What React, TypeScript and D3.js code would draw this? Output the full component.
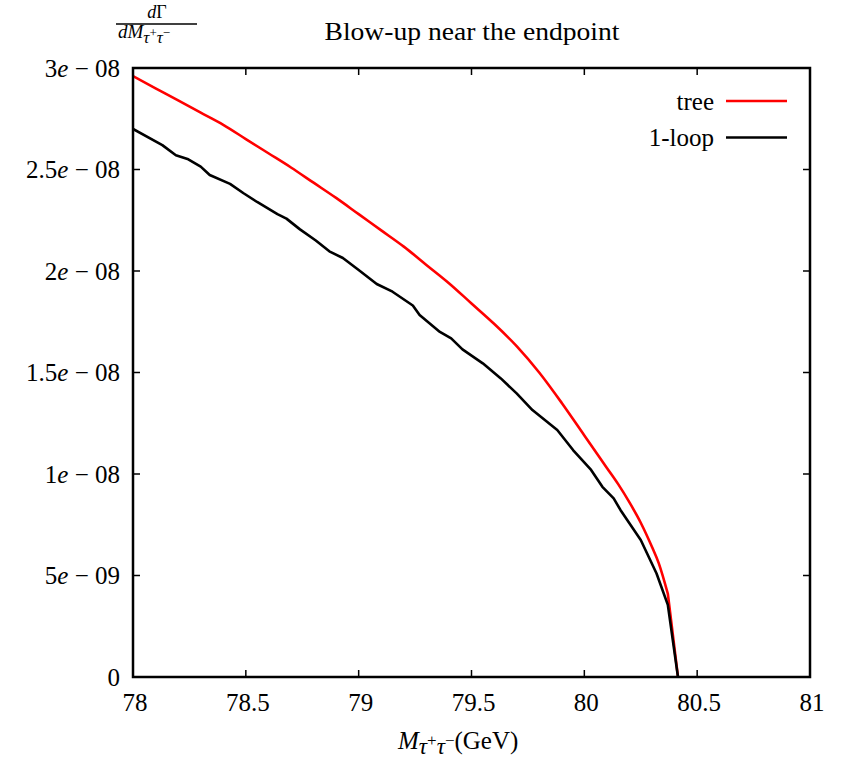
import * as d3 from "d3";
import React from "react";

// tree-level spectrum, x in GeV, y in units of 1e-9
const treeX = [78.0, 78.1, 78.2, 78.3, 78.4, 78.5, 78.6, 78.7, 78.8, 78.9, 79.0, 79.1, 79.2, 79.3, 79.4, 79.5, 79.6, 79.7, 79.8, 79.9, 80.0, 80.1, 80.15, 80.2, 80.25, 80.3, 80.33, 80.37, 80.415];
const treeY = [29.6, 29.0, 28.4, 27.8, 27.2, 26.5, 25.8, 25.1, 24.35, 23.6, 22.8, 22.0, 21.2, 20.3, 19.4, 18.4, 17.4, 16.3, 15.0, 13.5, 11.9, 10.3, 9.5, 8.6, 7.6, 6.4, 5.6, 4.1, 0];

// 1-loop spectrum (noisy)
const loopX = [78.0, 78.13, 78.19, 78.245, 78.3, 78.34, 78.43, 78.49, 78.55, 78.64, 78.68, 78.74, 78.81, 78.87, 78.93, 79.0, 79.08, 79.15, 79.24, 79.27, 79.36, 79.41, 79.46, 79.55, 79.63, 79.7, 79.77, 79.88, 79.95, 80.03, 80.08, 80.13, 80.16, 80.25, 80.32, 80.37, 80.415];
const loopY = [27.0, 26.2, 25.7, 25.5, 25.14, 24.73, 24.29, 23.83, 23.4, 22.8, 22.58, 22.05, 21.5, 20.97, 20.64, 20.05, 19.36, 18.98, 18.3, 17.83, 17.0, 16.68, 16.14, 15.45, 14.71, 13.97, 13.15, 12.17, 11.18, 10.2, 9.37, 8.8, 8.23, 6.75, 5.1, 3.55, 0];

const xTicks = [78, 78.5, 79, 79.5, 80, 80.5, 81];
const yTicks = [0, 5, 10, 15, 20, 25, 30];
const yTickMant = ["0", "5", "1", "1.5", "2", "2.5", "3"];
const yTickExp = ["", "09", "08", "08", "08", "08", "08"];

const legendNames = ["tree", "1-loop"];
const legendColors = ["#ff0000", "#000000"];

const W = 841;
const H = 766;
const left = 133;
const right = 810;
const top = 68;
const bottom = 677;
const font = '"Liberation Serif", "DejaVu Serif", serif';

export default function App() {
  const x = d3.scaleLinear().domain([78, 81]).range([left, right]);
  const y = d3.scaleLinear().domain([0, 30]).range([bottom, top]);

  const smooth = d3
    .line<[number, number]>()
    .x((d) => x(d[0]))
    .y((d) => y(d[1]))
    .curve(d3.curveMonotoneX);
  const plain = d3
    .line<[number, number]>()
    .x((d) => x(d[0]))
    .y((d) => y(d[1]));

  const treeData = treeX.map((v, i) => [v, treeY[i]] as [number, number]);
  const loopData = loopX.map((v, i) => [v, loopY[i]] as [number, number]);
  // last segment of the tree curve is a straight drop to the endpoint
  const treePath = (smooth(treeData.slice(0, -1)) || "") + (plain(treeData.slice(-2)) || "").replace(/^M[^L]*/, "");
  const loopPath = plain(loopData) || "";

  return (
    <svg
      width={W}
      height={H}
      style={{ position: "absolute", left: 0, top: 0, background: "#fff", fontFamily: font }}
    >
      <rect x={0} y={0} width={W} height={H} fill="#fff" />

      {/* ticks, mirrored on all four sides */}
      {xTicks.map((t) => (
        <g key={"xt" + t} stroke="#000" strokeWidth={1.5}>
          <line x1={x(t)} x2={x(t)} y1={bottom} y2={bottom - 7} />
          <line x1={x(t)} x2={x(t)} y1={top} y2={top + 7} />
        </g>
      ))}
      {yTicks.map((t) => (
        <g key={"yt" + t} stroke="#000" strokeWidth={1.5}>
          <line x1={left} x2={left + 7} y1={y(t)} y2={y(t)} />
          <line x1={right} x2={right - 7} y1={y(t)} y2={y(t)} />
        </g>
      ))}

      {/* tick labels */}
      {xTicks.map((t) => (
        <text key={"xl" + t} x={x(t) + 2} y={711} fontSize={25} textAnchor="middle">
          {String(t)}
        </text>
      ))}
      {yTicks.map((t, i) => (
        <text key={"yl" + t} x={120} y={y(t) + 8.5} fontSize={25} textAnchor="end">
          {yTickExp[i] === "" ? (
            yTickMant[i]
          ) : (
            <>
              <tspan>{yTickMant[i]}</tspan>
              <tspan fontStyle="italic">e</tspan>
              <tspan>{" \u2212 " + yTickExp[i]}</tspan>
            </>
          )}
        </text>
      ))}

      {/* curves */}
      <defs>
        <clipPath id="plotclip">
          <rect x={left} y={top} width={right - left} height={bottom - top} />
        </clipPath>
      </defs>
      <g clipPath="url(#plotclip)">
        <path d={treePath} fill="none" stroke="#ff0000" strokeWidth={2.6} strokeLinejoin="round" />
        <path d={loopPath} fill="none" stroke="#000" strokeWidth={2.6} strokeLinejoin="round" />
      </g>

      {/* frame */}
      <rect x={left} y={top} width={right - left} height={bottom - top} fill="none" stroke="#000" strokeWidth={2.5} />

      {/* legend */}
      {legendNames.map((n, i) => (
        <g key={n}>
          <text x={714} y={109.5 + i * 36.5} fontSize={25} textAnchor="end">
            {n}
          </text>
          <line x1={726} x2={787} y1={101 + i * 36.5} y2={101 + i * 36.5} stroke={legendColors[i]} strokeWidth={2.6} />
        </g>
      ))}

      {/* title */}
      <text x={472} y={40} fontSize={26} textAnchor="middle" textLength={295} lengthAdjust="spacingAndGlyphs">
        Blow-up near the endpoint
      </text>

      {/* y label: dΓ / dM_{τ+τ−} */}
      <text x={157} y={18} fontSize={18} textAnchor="middle">
        <tspan fontStyle="italic">d</tspan>
        <tspan>Γ</tspan>
      </text>
      <line x1={116} x2={197} y1={24} y2={24} stroke="#000" strokeWidth={1.3} />
      <text x={118} y={38} fontSize={19}>
        <tspan fontStyle="italic">dM</tspan>
        <tspan fontSize={17} fontStyle="italic" dy={5}>τ</tspan>
        <tspan fontSize={13} dy={-6}>+</tspan>
        <tspan fontSize={17} fontStyle="italic" dy={6}>τ</tspan>
        <tspan fontSize={13} dy={-6}>−</tspan>
      </text>

      {/* x label: M_{τ+τ−}(GeV) */}
      <text x={398} y={749} fontSize={25}>
        <tspan fontStyle="italic">M</tspan>
        <tspan fontSize={23} fontStyle="italic" dy={5}>τ</tspan>
        <tspan fontSize={17} dy={-8}>+</tspan>
        <tspan fontSize={23} fontStyle="italic" dy={8}>τ</tspan>
        <tspan fontSize={17} dy={-8}>−</tspan>
        <tspan dy={3}>(GeV)</tspan>
      </text>
    </svg>
  );
}
